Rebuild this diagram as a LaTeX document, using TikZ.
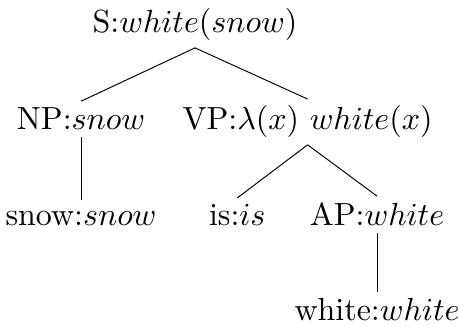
\documentclass[tikz,border=0pt]{standalone}
\usepackage{amsmath}
\usetikzlibrary{positioning}

\begin{document}
\begin{tikzpicture}[
      tnode/.style={inner sep=2pt, anchor=base},
      line width=0.3pt
    ]
    \useasboundingbox (-60.94pt,-91.88pt) rectangle (82.19pt,10.31pt);

    % Nodes
    \node[tnode] (s) at (0,0) {S:$white(snow)$};
    \node[tnode, below left=30.3pt and 35.6pt of s.base, anchor=base] (np) {NP:$snow$};
    \node[tnode, below right=30.3pt and 35.2pt of s.base, anchor=base] (vp) {VP:$\lambda(x)\ white(x)$};
    \node[tnode, below=30pt of np.base, anchor=base, text height=6pt] (snow) {snow:$snow$};
    \node[tnode, below left=30pt and 22pt of vp.base, anchor=base] (is) {is:$is$};
    \node[tnode, below right=30pt and 21.7pt of vp.base, anchor=base] (ap) {AP:$white$};
    \node[tnode, below=29.7pt of ap.base, anchor=base] (white) {white:$white$};

    % Edges
    \draw (s.south) -- (np.north);
    \draw (s.south) -- (vp.north);
    \draw (np.south) -- (snow.north);
    \draw (vp.south) -- (is.north);
    \draw (vp.south) -- (ap.north);
    \draw (ap.south) -- (white.north);

  \end{tikzpicture}
\end{document}
